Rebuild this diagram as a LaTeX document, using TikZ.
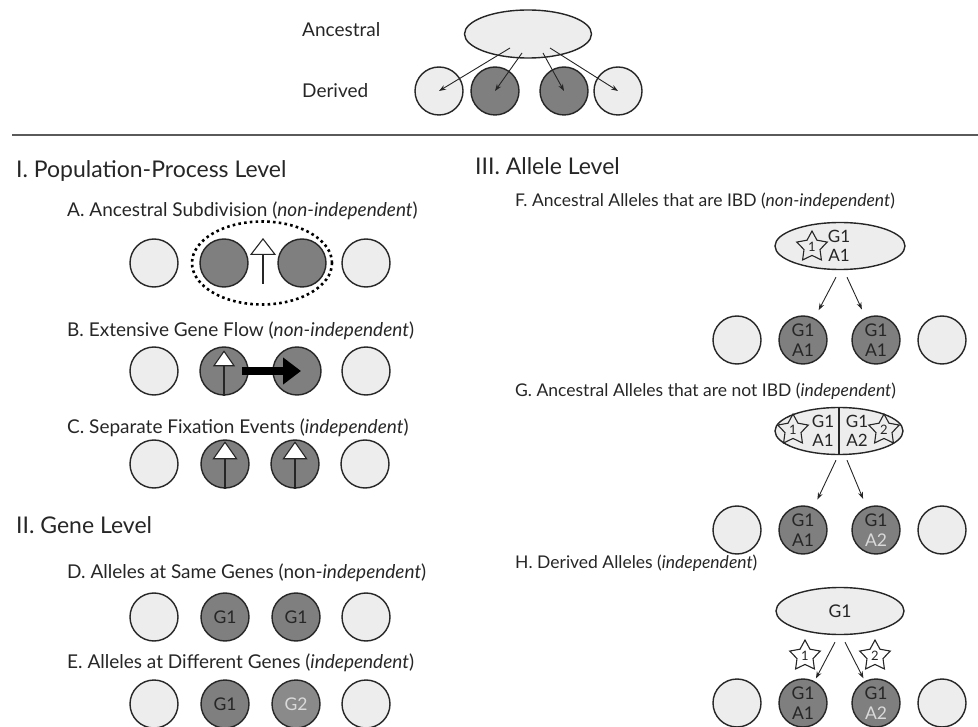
\documentclass[tikz,border=0pt]{standalone}
\usepackage{fontspec}
\setmainfont{Lato}
\usetikzlibrary{shapes.geometric,arrows.meta,calc}
\definecolor{lightfill}{HTML}{EDEDED}
\definecolor{darkfill}{HTML}{7F7F7F}
\definecolor{midfill}{HTML}{8A8A8A}
\definecolor{ink}{HTML}{262626}
\definecolor{pale}{HTML}{DADADA}
\definecolor{rulegray}{HTML}{5A5A5A}
\begin{document}
\begin{tikzpicture}[x=1pt,y=-1pt,
  pop/.style={circle, draw=ink, line width=1.4pt, minimum size=48pt, inner sep=0pt, fill=lightfill,
    align=center, font=\fontsize{17.5}{20}\selectfont, text=ink},
  dpop/.style={pop, fill=darkfill},
  ancpop/.style={ellipse, draw=ink, line width=1.4pt, fill=lightfill, inner sep=0pt},
  lab/.style={anchor=base west, font=\fontsize{17.5}{20}\selectfont, text=ink, inner sep=0pt},
  llab/.style={lab, font=\fontsize{19}{21}\selectfont},
  head/.style={anchor=base west, font=\fontsize{23}{26}\selectfont, text=ink, inner sep=0pt},
  ctext/.style={font=\fontsize{17}{17}\selectfont, text=ink, inner sep=0pt},
  starmark/.style={star, star points=5, star point ratio=1.9, draw=ink, line width=1.1pt,
    minimum size=32pt, inner sep=0pt, font=\fontsize{13}{13}\selectfont, text=ink},
  thinarrow/.style={-{Stealth[length=7pt,width=5pt]}, line width=0.9pt, draw=ink},
  openarrow/.style={-{Triangle[length=18pt,width=25pt,fill=white]}, line width=1.1pt, draw=ink},
  flowarrow/.style={-{Triangle[length=18pt,width=26pt]}, line width=8pt, draw=black}
]
\useasboundingbox (0,0) rectangle (978,727);

% ---------- top key ----------
\node[lab, font=\fontsize{19}{21}\selectfont] (tAnc) at (302,37) {Ancestral};
\node[lab, font=\fontsize{19}{21}\selectfont] (tDer) at (302,98) {Derived};
\node[ancpop, minimum width=127pt, minimum height=48pt] (anc) at (528,34) {};
\node[pop]  (d1) at (439,91) {};
\node[dpop] (d2) at (495,91) {};
\node[dpop] (d3) at (564,91) {};
\node[pop]  (d4) at (618,91) {};
\coordinate (as1) at ($(anc.center)+(-18,14)$);
\coordinate (as2) at ($(anc.center)+(-6,19)$);
\coordinate (as3) at ($(anc.center)+(15,19)$);
\coordinate (as4) at ($(anc.center)+(22,14)$);
\draw[thinarrow] (as1) -- (d1.center);
\draw[thinarrow] (as2) -- (d2.center);
\draw[thinarrow] (as3) -- (d3.center);
\draw[thinarrow] (as4) -- (d4.center);

\coordinate (ruleL) at (12,135);
\coordinate (ruleR) at (978,135);
\draw[rulegray, line width=1.6pt] (ruleL) -- (ruleR);

% ---------- I. Population-Process Level ----------
\node[head] (hI) at (16,178) {I. Population-Process Level};

\node[llab] (lA) at (67,217) {A. Ancestral Subdivision (\textit{non-independent})};
\node[pop]  (a1) at (154,263) {};
\node[dpop] (a2) at (224,263) {};
\node[dpop] (a3) at (302,263) {};
\node[pop]  (a4) at (366,263) {};
\node[ellipse, draw=black, line width=2.6pt, dash pattern=on 2.6pt off 3.2pt,
      minimum width=140pt, minimum height=83pt, inner sep=0pt] (asub) at (262,263) {};
\coordinate (aup1) at (263,284);
\coordinate (aup2) at (263,238);
\draw[openarrow, -{Triangle[length=17pt,width=26pt,fill=white]}] (aup1) -- (aup2);

\node[llab] (lB) at (67,337) {B. Extensive Gene Flow (\textit{non-independent})};
\node[pop]  (b1) at (154,371) {};
\node[dpop] (b2) at (224,371) {};
\node[dpop] (b3) at (297,371) {};
\node[pop]  (b4) at (366,371) {};
\coordinate (bup) at ($(b2.north)+(0,4)$);
\draw[openarrow, -{Triangle[length=16pt,width=22pt,fill=white]}] (b2.south) -- (bup);
\coordinate (bflow1) at ($(b2.center)+(18,0)$);
\coordinate (bflow2) at ($(b3.center)+(4,0)$);
\draw[flowarrow] (bflow1) -- (bflow2);

\node[llab] (lC) at (67,433) {C. Separate Fixation Events (\textit{independent})};
\node[pop]  (c1) at (154,464) {};
\node[dpop] (c2) at (225,464) {};
\node[dpop] (c3) at (295,464) {};
\node[pop]  (c4) at (365,464) {};
\coordinate (cup2) at ($(c2.north)+(0,2)$);
\coordinate (cup3) at ($(c3.north)+(0,2)$);
\draw[openarrow] (c2.south) -- (cup2);
\draw[openarrow] (c3.south) -- (cup3);

% ---------- II. Gene Level ----------
\node[head] (hII) at (16,533) {II. Gene Level};

\node[llab] (lD) at (67,578) {D. Alleles at Same Genes (non-\textit{independent})};
\node[pop]  (e1) at (154,617) {};
\node[dpop] (e2) at (225,617) {G1};
\node[dpop] (e3) at (296,617) {G1};
\node[pop]  (e4) at (366,617) {};

\node[llab] (lE) at (67,668) {E. Alleles at Different Genes (\textit{independent})};
\node[pop]  (g1) at (154,704) {};
\node[dpop] (g2) at (225,704) {G1};
\node[dpop, fill=midfill, text=pale] (g3) at (296,704) {G2};
\node[pop]  (g4) at (366,704) {};

% ---------- III. Allele Level ----------
\node[head] (hIII) at (475,175) {III. Allele Level};

% F
\node[lab] (lF) at (515,207) {F. Ancestral Alleles that are IBD (\textit{non-independent})};
\node[ancpop, minimum width=130pt, minimum height=47pt] (fanc) at (840,246) {};
\node[starmark] (fstar) at (812,247) {1};
\node[ctext] (fG) at (839,236) {G1};
\node[ctext] (fA) at (839,255) {A1};
\node[pop]  (f1) at (737,340) {};
\node[dpop] (f2) at (803,340) {G1\\A1};
\node[dpop] (f3) at (876,340) {G1\\A1};
\node[pop]  (f4) at (942,340) {};
\coordinate (fs1) at ($(fanc.south)+(-4,7)$);
\coordinate (fs2) at ($(fanc.south)+(7,7)$);
\draw[thinarrow, shorten >=9pt] (fs1) -- (f2);
\draw[thinarrow, shorten >=9pt] (fs2) -- (f3);

% G
\node[lab] (lG) at (515,397) {G. Ancestral Alleles that are not IBD (\textit{independent})};
\node[ancpop, minimum width=128pt, minimum height=47pt] (ganc) at (839,431) {};
\draw[ink, line width=1.1pt] (ganc.north) -- (ganc.south);
\node[starmark] (gstar1) at (793,430) {1};
\node[starmark] (gstar2) at (884,430) {2};
\node[ctext] (gG1) at (823,421) {G1};
\node[ctext] (gA1) at (823,440) {A1};
\node[ctext] (gG2) at (857,421) {G1};
\node[ctext] (gA2) at (857,440) {A2};
\node[pop]  (h1) at (737,530) {};
\node[dpop] (h2) at (803,530) {G1\\A1};
\node[dpop] (h3) at (876,530) {G1\\\textcolor{pale}{A2}};
\node[pop]  (h4) at (942,530) {};
\coordinate (gs1) at ($(ganc.south)+(-3,5)$);
\coordinate (gs2) at ($(ganc.south)+(8,5)$);
\draw[thinarrow, shorten >=9pt] (gs1) -- (h2);
\draw[thinarrow, shorten >=9pt] (gs2) -- (h3);

% H
\node[lab] (lH) at (515,568) {H. Derived Alleles (\textit{independent})};
\node[ancpop, minimum width=128pt, minimum height=47pt, font=\fontsize{17.5}{17.5}\selectfont, text=ink] (hanc) at (840,611) {G1};
\node[pop]  (k1) at (737,703) {};
\node[dpop] (k2) at (803,703) {G1\\A1};
\node[dpop] (k3) at (876,703) {G1\\\textcolor{pale}{A2}};
\node[pop]  (k4) at (942,703) {};
\coordinate (hs1) at ($(hanc.south)+(-5,7)$);
\coordinate (hs2) at ($(hanc.south)+(5,7)$);
\draw[thinarrow, shorten >=3pt] (hs1) -- (k2);
\draw[thinarrow, shorten >=3pt] (hs2) -- (k3);
\node[starmark] (hstar1) at (805,656) {1};
\node[starmark] (hstar2) at (875,656) {2};
\end{tikzpicture}
\end{document}
